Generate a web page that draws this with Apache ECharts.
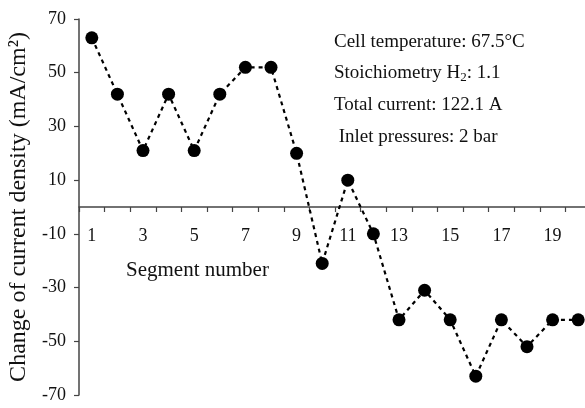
<!DOCTYPE html>
<html>
<head>
<meta charset="utf-8">
<script src="https://cdn.jsdelivr.net/npm/echarts@6/dist/echarts.min.js"></script>
<style>html,body{margin:0;padding:0;background:#fff}#c{width:585px;height:408px}</style>
</head>
<body>
<div id="c"></div>
<script>
var segments = ['1','2','3','4','5','6','7','8','9','10','11','12','13','14','15','16','17','18','19','20'];
var deltaCurrent = [63, 42, 21, 42, 21, 42, 52, 52, 20, -21, 10, -10, -42, -31, -42, -63, -42, -52, -42, -42];
var yTicks = [-70, -50, -30, -10, 10, 30, 50, 70];
var yTitle = 'Change of current density (mA/cm\u00B2)';
var xTitle = 'Segment number';
var notes = [
  'Cell temperature: 67.5\u00B0C',
  '{n|Stoichiometry H}{s|2}{n|: 1.1}',
  'Total current: 122.1 A',
  ' Inlet pressures: 2 bar'
];

var FONT = '"Liberation Serif", "Times New Roman", serif';
var chart = echarts.init(document.getElementById('c'));
var noteY = [42, 73, 105, 137];
var graphics = notes.map(function (t, i) {
  return {
    type: 'text', x: 334, y: noteY[i],
    style: {
      text: t, fill: '#111', font: '19px ' + FONT, verticalAlign: 'middle',
      rich: {
        n: { fontSize: 19, fontFamily: FONT, fill: '#111' },
        s: { fontSize: 13, fontFamily: FONT, fill: '#111', padding: [9, 0, 0, 0] }
      }
    }
  };
});
graphics.push({
  type: 'text', x: 126, y: 270,
  style: { text: xTitle, fill: '#111', font: '21px ' + FONT, verticalAlign: 'middle' }
});

var gridTop = 19, gridBottom = 13, H = 408;
var gridH = H - gridTop - gridBottom;

chart.setOption({
  animation: false,
  grid: { left: 79, right: -6, top: gridTop, bottom: gridBottom, outerBoundsMode: 'none', containLabel: false },
  xAxis: {
    type: 'category',
    data: segments,
    boundaryGap: true,
    position: 'bottom',
    offset: -gridH / 2,
    axisLine: { onZero: false, lineStyle: { color: '#444', width: 1.5 } },
    axisTick: { show: true, interval: 0, alignWithLabel: false, length: 5, lineStyle: { color: '#444', width: 1.2 } },
    axisLabel: { interval: 1, margin: 20, color: '#111', fontSize: 18, fontFamily: FONT },
    splitLine: { show: false }
  },
  yAxis: {
    type: 'value',
    min: -70, max: 70,
    name: yTitle,
    nameLocation: 'middle',
    nameGap: 46,
    nameTextStyle: { color: '#111', fontSize: 24, fontFamily: FONT },
    axisLine: { show: true, onZero: false, lineStyle: { color: '#444', width: 1.5 } },
    axisTick: { show: true, length: 5, customValues: yTicks, lineStyle: { color: '#444', width: 1.2 } },
    axisLabel: { customValues: yTicks, margin: 13, color: '#111', fontSize: 18, fontFamily: FONT },
    splitLine: { show: false }
  },
  series: [{
    type: 'line',
    data: deltaCurrent,
    symbol: 'circle',
    symbolSize: 13,
    itemStyle: { color: '#000' },
    lineStyle: { color: '#000', width: 2.2, type: [4, 4] }
  }],
  graphic: graphics
});
</script>
</body>
</html>
